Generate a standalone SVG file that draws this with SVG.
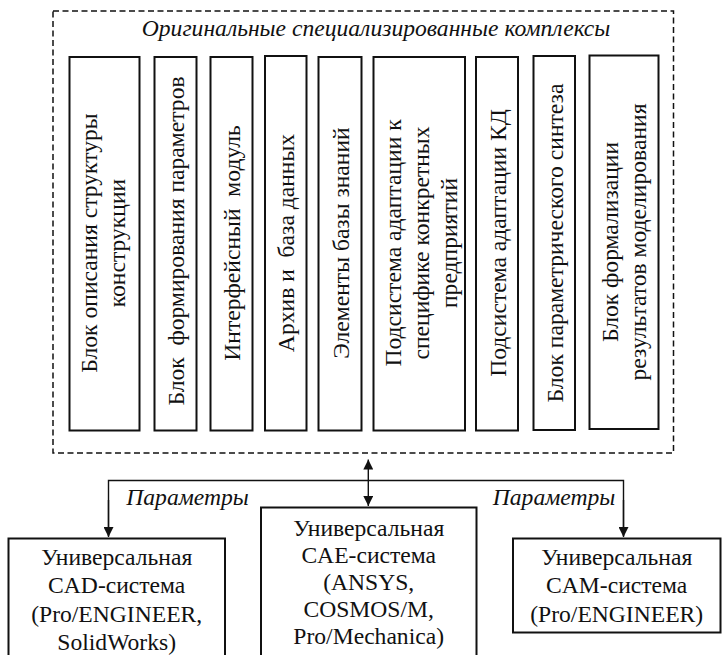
<svg xmlns="http://www.w3.org/2000/svg" width="722" height="655" viewBox="0 0 722 655" font-family="Liberation Serif, serif">
<defs>
<style>
.t{font-family:'Liberation Serif',serif;font-size:23.6px;fill:#111;text-anchor:middle}
.i{font-family:'Liberation Serif',serif;font-size:23.6px;font-style:italic;fill:#111;text-anchor:middle}
.box{fill:#fff;stroke:#111;stroke-width:2}
.dash{fill:none;stroke:#111;stroke-width:1.5;stroke-dasharray:6,3.5}
.ln{fill:none;stroke:#111;stroke-width:1.4}
</style>
<marker id="ah" viewBox="0 0 10 10" refX="10" refY="5" markerWidth="10" markerHeight="10" markerUnits="userSpaceOnUse" orient="auto-start-reverse">
<path d="M0,0 L10,5 L0,10 Z" fill="#111"/>
</marker>
</defs>
<rect width="722" height="655" fill="#fff"/>

<g id="complex">
<rect class="dash" x="53" y="11" width="620.5" height="442"/>
<text class="i" x="376" y="36">Оригинальные специализированные комплексы</text>
</g>

<g id="b1">
<rect class="box" x="69.5" y="57" width="70" height="373.5"/>
<text class="t" transform="translate(97,243) rotate(-90)">Блок описания структуры</text>
<text class="t" transform="translate(125,243) rotate(-90)">конструкции</text>
</g>
<g id="b2">
<rect class="box" x="154.5" y="57" width="42" height="373.5"/>
<text class="t" transform="translate(183.5,241) rotate(-90)" xml:space="preserve">Блок  формирования параметров</text>
</g>
<g id="b3">
<rect class="box" x="210.5" y="57" width="42" height="373.5"/>
<text class="t" transform="translate(240,243) rotate(-90)" xml:space="preserve">Интерфейсный  модуль</text>
</g>
<g id="b4">
<rect class="box" x="265" y="56" width="41.5" height="374.5"/>
<text class="t" transform="translate(294,243) rotate(-90)" xml:space="preserve">Архив и  база данных</text>
</g>
<g id="b5">
<rect class="box" x="318.5" y="57" width="43" height="373.5"/>
<text class="t" transform="translate(348.5,243) rotate(-90)">Элементы базы знаний</text>
</g>
<g id="b6">
<rect class="box" x="373.5" y="57" width="91.5" height="373.5"/>
<text class="t" transform="translate(401,243) rotate(-90)">Подсистема адаптации к</text>
<text class="t" transform="translate(429,243) rotate(-90)">специфике конкретных</text>
<text class="t" transform="translate(456.5,243) rotate(-90)">предприятий</text>
</g>
<g id="b7">
<rect class="box" x="476" y="57" width="42" height="373.5"/>
<text class="t" transform="translate(505.5,243) rotate(-90)">Подсистема адаптации КД</text>
</g>
<g id="b8">
<rect class="box" x="533.5" y="56" width="41.5" height="374"/>
<text class="t" transform="translate(562.5,243) rotate(-90)">Блок параметрического синтеза</text>
</g>
<g id="b9">
<rect class="box" x="589.5" y="55.5" width="69" height="373.5"/>
<text class="t" transform="translate(618,242) rotate(-90)">Блок формализации</text>
<text class="t" transform="translate(646,242) rotate(-90)">результатов моделирования</text>
</g>

<g id="connectors">
<polyline class="ln" points="108.5,536 108.5,480.5 623.5,480.5 623.5,536" />
<line class="ln" x1="108.5" y1="500" x2="108.5" y2="537" marker-end="url(#ah)"/>
<line class="ln" x1="623.5" y1="500" x2="623.5" y2="537" marker-end="url(#ah)"/>
<line class="ln" x1="368.3" y1="459.5" x2="368.3" y2="506" marker-start="url(#ah)" marker-end="url(#ah)"/>
<text class="i" x="187.5" y="505">Параметры</text>
<text class="i" x="554" y="505">Параметры</text>
</g>

<g id="cad">
<rect class="box" x="8.5" y="538.5" width="216.5" height="130"/>
<text class="t" x="116.7" y="565">Универсальная</text>
<text class="t" x="116.7" y="593">CAD-система</text>
<text class="t" x="116.7" y="621.5">(Pro/ENGINEER,</text>
<text class="t" x="116.7" y="650">SolidWorks)</text>
</g>
<g id="cae">
<rect class="box" x="261" y="507.5" width="215.5" height="160"/>
<text class="t" x="368.7" y="535.5">Универсальная</text>
<text class="t" x="368.7" y="562.5">CAE-система</text>
<text class="t" x="368.7" y="589.5">(ANSYS,</text>
<text class="t" x="368.7" y="616.5">COSMOS/M,</text>
<text class="t" x="368.7" y="643.5">Pro/Mechanica)</text>
</g>
<g id="cam">
<rect class="box" x="513" y="538.5" width="207.5" height="94"/>
<text class="t" x="616.7" y="565">Универсальная</text>
<text class="t" x="616.7" y="593">CAM-система</text>
<text class="t" x="616.7" y="621.5">(Pro/ENGINEER)</text>
</g>
</svg>
